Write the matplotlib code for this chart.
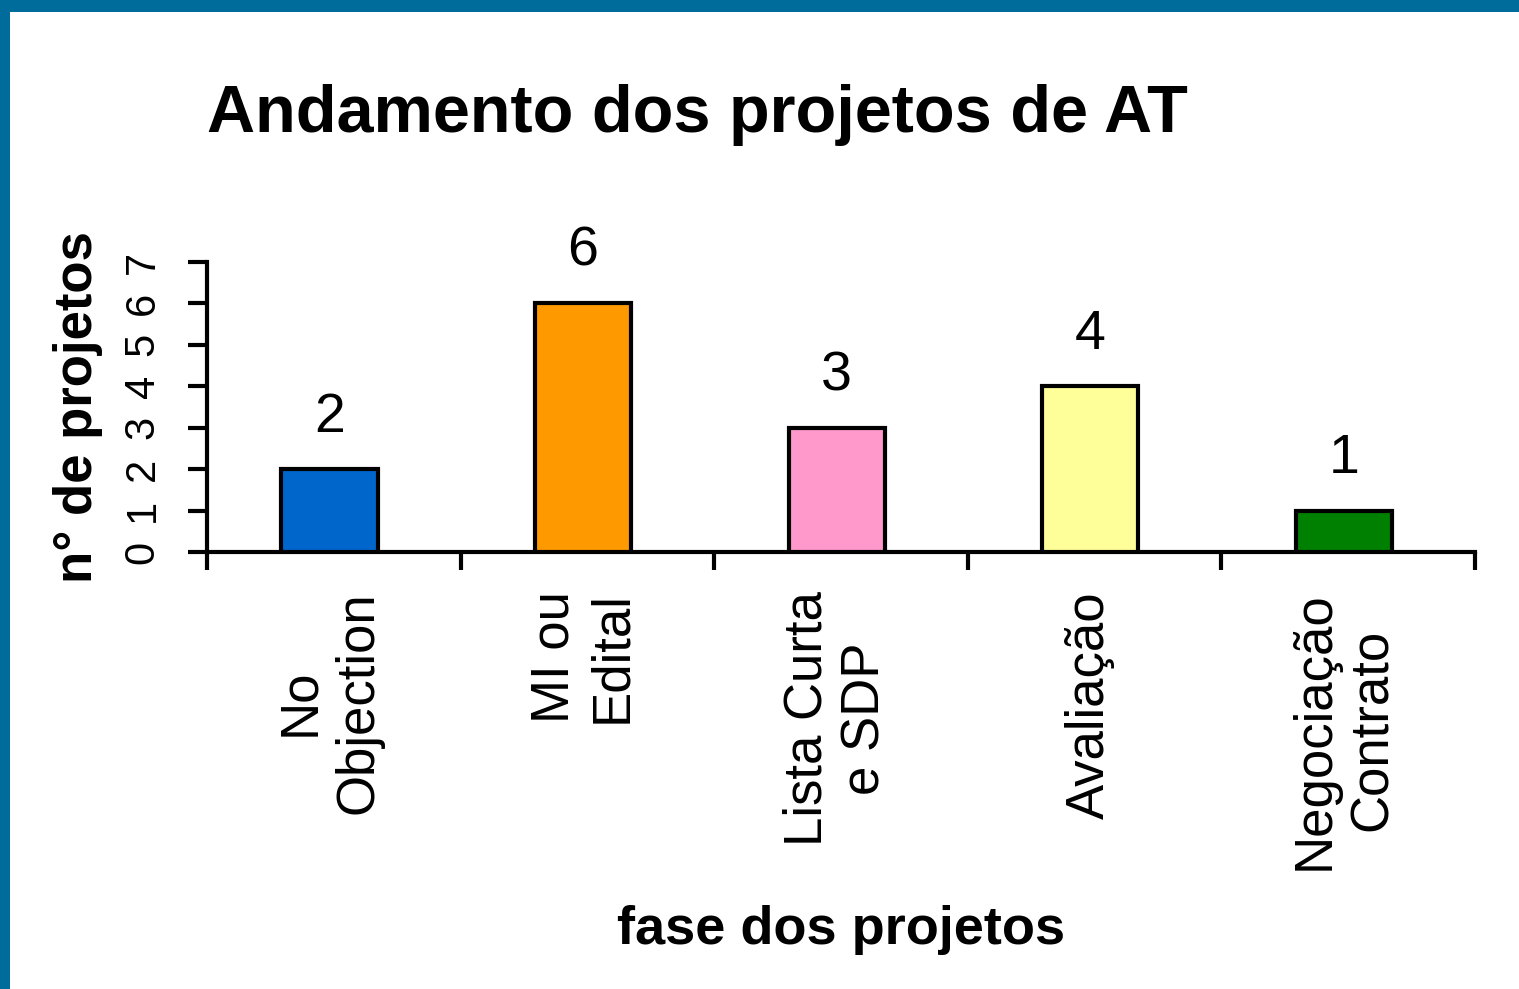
import numpy as np
import matplotlib
matplotlib.use("Agg")
import matplotlib.pyplot as plt
from matplotlib.patches import Rectangle

plt.rcParams['font.family'] = ['Liberation Sans', 'DejaVu Sans']

## data
fases   = ["No\nObjection", "MI ou\nEdital", "Lista Curta\ne SDP", "Avaliação", "Negociação\nContrato"]
projetos = [2, 6, 3, 4, 1]
cores   = ["#0066CC", "#FF9900", "#FF99CC", "#FFFF99", "#008000"]
yticks  = [0, 1, 2, 3, 4, 5, 6, 7]

W, H = 1519, 989
fig = plt.figure(figsize=(W/100, H/100), dpi=100)
fig.patch.set_facecolor("white")

# blue frame on top and left
fig.patches.append(Rectangle((0, 1 - 12/H), 1, 12/H, transform=fig.transFigure,
                             facecolor="#006C9C", edgecolor="none", zorder=0))
fig.patches.append(Rectangle((0, 0), 10/W, 1, transform=fig.transFigure,
                             facecolor="#006C9C", edgecolor="none", zorder=0))

ax = fig.add_axes([207/W, (H-552)/H, 1268/W, 290/H])

x = np.arange(len(fases))
ax.bar(x - 0.017, projetos, width=0.38, color=cores, edgecolor="black", linewidth=3, zorder=3)

for xi, v in zip(x, projetos):
    ax.annotate(str(v), (xi - 0.017, v), xytext=(0, 27), textcoords="offset points",
                ha="center", va="baseline", fontsize=40)

ax.set_xlim(-0.5, len(fases) - 0.5)
ax.set_ylim(0, 7)

ax.spines["top"].set_visible(False)
ax.spines["right"].set_visible(False)
ax.spines["left"].set_linewidth(3)
ax.spines["bottom"].set_linewidth(3)

# ticks at the category boundaries, labels at centres
ax.set_xticks(np.arange(len(fases) + 1) - 0.5)
ax.set_xticklabels([])
ax.tick_params(axis="x", which="major", direction="out", length=13, width=3)
ax.set_xticks(x - 0.017, minor=True)
ax.set_xticklabels(fases, minor=True, rotation=90, fontsize=38)
ax.tick_params(axis="x", which="minor", length=0, pad=28)

ax.set_yticks(yticks)
ax.set_yticklabels([str(t) for t in yticks], rotation=90, va="center", fontsize=30)
ax.tick_params(axis="y", direction="out", length=14, width=3, pad=18)

fig.text(78/W, 1 - 407/H, "n° de projetos", rotation=90, ha="center", va="center",
         fontsize=38, fontweight="bold")
fig.text(841/W, 1 - 930/H, "fase dos projetos", ha="center", va="center",
         fontsize=39, fontweight="bold")
fig.text(207/W, 1 - 132/H, "Andamento dos projetos de AT", ha="left", va="baseline",
         fontsize=48, fontweight="bold")

fig.savefig("out.png", dpi=100)
